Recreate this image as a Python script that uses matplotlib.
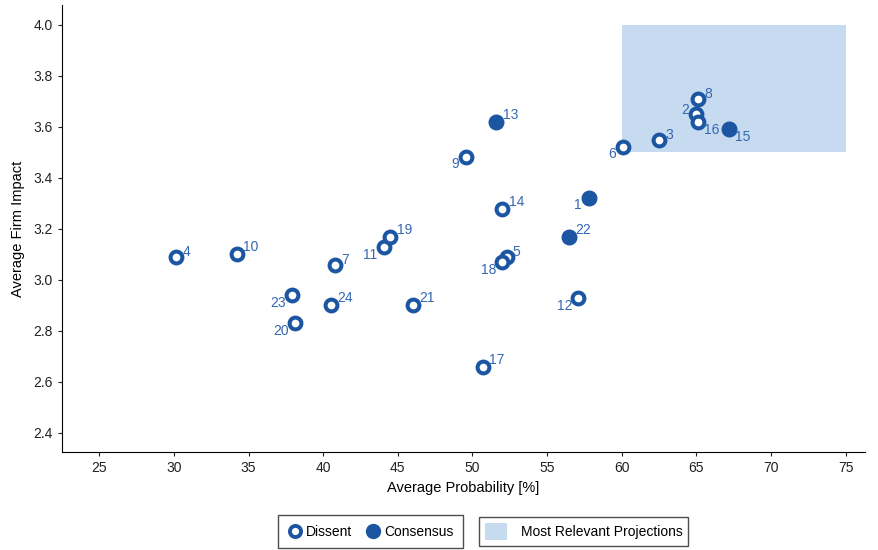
import matplotlib
matplotlib.use("Agg")
import matplotlib.pyplot as plt
from matplotlib.lines import Line2D
from matplotlib.patches import Patch, Rectangle

plt.rcParams['font.family'] = ['Liberation Sans', 'DejaVu Sans']

# projection data
ids = [1, 2, 3, 4, 5, 6, 7, 8, 9, 10, 11, 12, 13, 14, 15, 16, 17, 18, 19, 20, 21, 22, 23, 24]
prob = [57.8, 65.0, 62.5, 30.15, 52.3, 60.1, 40.8, 65.1, 49.6, 34.2, 44.1, 57.1,
        51.6, 52.0, 67.2, 65.1, 50.7, 52.0, 44.5, 38.1, 46.0, 56.5, 37.9, 40.5]
impact = [3.32, 3.65, 3.55, 3.09, 3.09, 3.52, 3.06, 3.71, 3.48, 3.10, 3.13, 2.93,
          3.62, 3.28, 3.59, 3.62, 2.66, 3.07, 3.17, 2.83, 2.90, 3.17, 2.94, 2.90]
consensus = [1, 13, 15, 22]

# where each number label sits around its point (pixel offsets, y down)
offsets = {'ur': (14, -7), 'r': (10, -5), 'dl': (-14, 8), 'dr': (14, 8),
           'l': (-11, -4), 'sl': (-11, 7)}
label_pos = {1: 'sl', 2: 'l', 3: 'r', 4: 'r', 5: 'r', 6: 'sl', 7: 'r', 8: 'r',
             9: 'sl', 10: 'ur', 11: 'dl', 12: 'dl', 13: 'ur', 14: 'ur', 15: 'dr',
             16: 'dr', 17: 'ur', 18: 'dl', 19: 'ur', 20: 'dl', 21: 'ur', 22: 'ur',
             23: 'dl', 24: 'ur'}

blue = '#1c56a3'
txt = '#3567b3'
box = '#c6dbef'

fig = plt.figure(figsize=(8.79, 5.5), dpi=100)
ax = fig.add_axes([0.0705, 0.178, 0.9135, 0.813])

ax.add_patch(Rectangle((60, 3.5), 15, 0.5, facecolor=box, edgecolor='none', zorder=0))

for i, x, y in zip(ids, prob, impact):
    if i in consensus:
        ax.plot(x, y, 'o', ms=10.5, mfc=blue, mec=blue, zorder=3)
    else:
        ax.plot(x, y, 'o', ms=8.5, mfc='white', mec=blue, mew=2.9, zorder=3)
    dx, dy = offsets[label_pos[i]]
    ax.annotate(str(i), (x, y), xytext=(dx * 0.72, -dy * 0.72), textcoords='offset points',
                ha='center', va='center', color=txt, fontsize=10)

ax.set_xlim(22.5, 76.3)
ax.set_ylim(2.325, 4.078)
ax.set_xticks(range(25, 80, 5))
ax.set_yticks([2.4, 2.6, 2.8, 3.0, 3.2, 3.4, 3.6, 3.8, 4.0])
ax.set_yticklabels(['2.4', '2.6', '2.8', '3.0', '3.2', '3.4', '3.6', '3.8', '4.0'])
ax.spines['top'].set_visible(False)
ax.spines['right'].set_visible(False)
ax.tick_params(labelsize=10, length=3, colors='#222222')
ax.set_xlabel('Average Probability [%]', fontsize=10.5)
ax.set_ylabel('Average Firm Impact', fontsize=10.5, labelpad=6)

h1 = [Line2D([], [], ls='none', marker='o', ms=8, mfc='white', mec=blue, mew=2.8),
      Line2D([], [], ls='none', marker='o', ms=10, mfc=blue, mec=blue)]
leg1 = fig.legend(h1, ['Dissent', 'Consensus'], ncol=2, loc='center',
                  bbox_to_anchor=(0.4214, 0.0336), frameon=True, fancybox=False,
                  edgecolor='#222222', fontsize=10, handletextpad=0.2,
                  columnspacing=1.0, borderpad=0.7, handlelength=1.1)
leg1.get_frame().set_linewidth(1.0)
h2 = [Patch(facecolor=box, edgecolor='none')]
leg2 = fig.legend(h2, ['Most Relevant Projections'], loc='center',
                  bbox_to_anchor=(0.6638, 0.0336), frameon=True, fancybox=False,
                  edgecolor='#222222', fontsize=10, handlelength=1.6,
                  handleheight=1.6, borderpad=0.4, handletextpad=1.0)
leg2.get_frame().set_linewidth(1.0)

fig.savefig('out.png', dpi=100)
